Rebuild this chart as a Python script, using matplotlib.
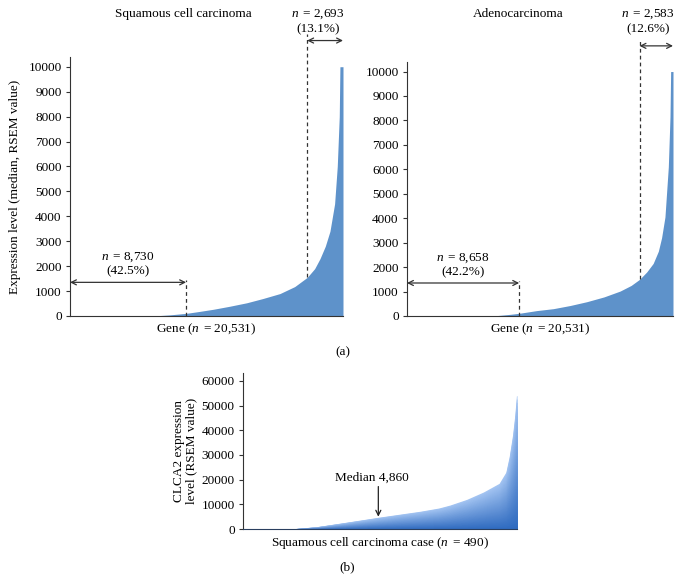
import matplotlib
matplotlib.use("Agg")
import matplotlib.pyplot as plt
import numpy as np
from matplotlib.colors import to_rgb

plt.rcParams['font.family'] = ['Liberation Serif', 'DejaVu Serif']
plt.rcParams['mathtext.fontset'] = 'custom'
plt.rcParams['mathtext.rm'] = 'Liberation Serif'
plt.rcParams['mathtext.it'] = 'Liberation Serif:italic'
FS = 9.5

# ---- data ----
n_genes = 20531
sq_rank = [0, 6000, 6500, 7500, 8730, 9700, 10780, 12000, 13290, 14500, 15790,
           16900, 17840, 18400, 18800, 19200, 19550, 19900, 20100, 20250, 20300, 20531]
sq_expr = [0, 0, 10, 45, 105, 180, 270, 390, 530, 700, 900,
           1180, 1550, 1900, 2300, 2800, 3400, 4500, 6000, 8000, 10000, 10000]

ad_rank = [0, 6300, 7000, 8000, 8658, 10000, 11300, 12600, 13880, 15200, 16450,
           17300, 17950, 18500, 19000, 19400, 19650, 19910, 20170, 20300, 20350, 20531]
ad_expr = [0, 0, 20, 70, 110, 220, 300, 430, 585, 780, 1020,
           1250, 1500, 1800, 2150, 2650, 3200, 4050, 6100, 8150, 10000, 10000]

sq_low_n, sq_low_pct = 8730, "42.5%"
sq_high_n, sq_high_pct = 2693, "13.1%"
ad_low_n, ad_low_pct = 8658, "42.2%"
ad_high_n, ad_high_pct = 2583, "12.6%"

n_cases = 490
clca2_case = [0, 84, 132, 191, 245, 280, 317, 350, 370, 400, 430, 458, 470, 476, 482, 486, 489, 490]
clca2_expr = [0, 0, 950, 2970, 4860, 6000, 7200, 8500, 9700, 12000, 15000, 18500,
              23000, 29300, 38000, 46000, 54000, 54000]
clca2_median = 4860

top_ticks = [0, 1000, 2000, 3000, 4000, 5000, 6000, 7000, 8000, 9000, 10000]
bot_ticks = [0, 10000, 20000, 30000, 40000, 50000, 60000]

fill_top = '#5e92ca'

fig = plt.figure(figsize=(6.85, 5.81), dpi=100)
W, H = 685, 581

def ax_at(l, r, top, bot):
    return fig.add_axes([l / W, (H - bot) / H, (r - l) / W, (bot - top) / H])

def fx(px):
    return px / W

def fy(py):
    return 1 - py / H

def nlab(n):
    return '$n\\,$ = {:,}'.format(n)

def style(ax):
    for s in ['top', 'right']:
        ax.spines[s].set_visible(False)
    ax.spines['left'].set_color('#333333')
    ax.spines['bottom'].set_color('#333333')
    ax.tick_params(axis='y', direction='out', length=3, width=0.8, colors='#333333',
                   labelsize=FS, labelcolor='black', pad=3)
    ax.tick_params(axis='x', length=0, labelbottom=False)

def top_panel(ax, rank, expr, low_n, low_pct, high_n, high_pct, ytop, hi_dash_bottom):
    ax.fill_between(rank, 0, expr, color=fill_top, lw=0)
    ax.set_xlim(0, n_genes)
    ax.set_ylim(0, ytop)
    ax.set_yticks(top_ticks)
    style(ax)
    ax.set_xlabel('Gene ($n\\,$ = 20,531)', fontsize=FS, labelpad=4)
    # low arrow
    ya = 1350
    ax.annotate('', xy=(0, ya), xytext=(low_n, ya),
                arrowprops=dict(arrowstyle='<->', color='#333333', lw=0.9,
                                shrinkA=0, shrinkB=0, mutation_scale=9))
    ax.plot([low_n, low_n], [0, ya + 100], ls=(0, (3, 2.5)), color='#333333', lw=0.9)
    ax.text(low_n / 2, ya + 200, nlab(low_n) + '\n({})'.format(low_pct),
            ha='center', va='bottom', fontsize=FS, linespacing=1.15)
    # high arrow
    hx = n_genes - high_n
    yb = 11050
    ax.plot([hx, hx], [hi_dash_bottom, yb + 250],
            ls=(0, (3, 2.5)), color='#333333', lw=0.9, clip_on=False)
    ax.annotate('', xy=(hx, yb), xytext=(n_genes, yb), annotation_clip=False,
                arrowprops=dict(arrowstyle='<->', color='#333333', lw=0.9,
                                shrinkA=0, shrinkB=0, mutation_scale=9))

ax1 = ax_at(70, 343, 57, 316)
top_panel(ax1, sq_rank, sq_expr, sq_low_n, sq_low_pct, sq_high_n, sq_high_pct, 10390, 1550)
ax1.set_ylabel('Expression level (median, RSEM value)', fontsize=FS, labelpad=5)
fig.text(fx(183), fy(14), 'Squamous cell carcinoma', ha='center', va='center', fontsize=FS)
fig.text(fx(318), fy(14), nlab(sq_high_n), ha='center', va='center', fontsize=FS)
fig.text(fx(318), fy(29), '({})'.format(sq_high_pct), ha='center', va='center', fontsize=FS)

ax2 = ax_at(407, 673, 62, 316)
top_panel(ax2, ad_rank, ad_expr, ad_low_n, ad_low_pct, ad_high_n, ad_high_pct, 10390, 1500)
fig.text(fx(518), fy(14), 'Adenocarcinoma', ha='center', va='center', fontsize=FS)
fig.text(fx(648), fy(14), nlab(ad_high_n), ha='center', va='center', fontsize=FS)
fig.text(fx(648), fy(29), '({})'.format(ad_high_pct), ha='center', va='center', fontsize=FS)

fig.text(fx(343), fy(352), '(a)', ha='center', va='center', fontsize=FS)

# ---- bottom panel ----
ax3 = ax_at(243, 517, 373, 529)
dark = np.array(to_rgb('#2f6bc0'))
light = np.array(to_rgb('#a3c4f2'))
N = 40
cx = np.array(clca2_case, dtype=float)
cy = np.array(clca2_expr, dtype=float)
for k in range(N, 0, -1):
    f = k / N
    t = (k - 1) / (N - 1)
    col = dark * (1 - t) + light * t
    ax3.fill_between(cx, 0, cy * f, color=col, lw=0)
ax3.set_xlim(0, n_cases)
ax3.set_ylim(0, 63200)
ax3.set_yticks(bot_ticks)
style(ax3)
ax3.spines['bottom'].set_color('#2a3f5f')
ax3.set_xlabel('Squamous cell carcinoma case ($n\\,$ = 490)', fontsize=FS, labelpad=4)
ax3.set_ylabel('CLCA2 expression\nlevel (RSEM value)', fontsize=FS, labelpad=3, linespacing=1.05)
ax3.annotate('', xy=(242, 4990), xytext=(242, 17200),
             arrowprops=dict(arrowstyle='->', color='#222222', lw=0.9,
                             shrinkA=0, shrinkB=0, mutation_scale=9))
ax3.text(230, 20900, 'Median {:,}'.format(clca2_median), ha='center', va='center', fontsize=FS)

fig.text(fx(347), fy(567), '(b)', ha='center', va='center', fontsize=FS)

fig.savefig('out.png', dpi=100)
